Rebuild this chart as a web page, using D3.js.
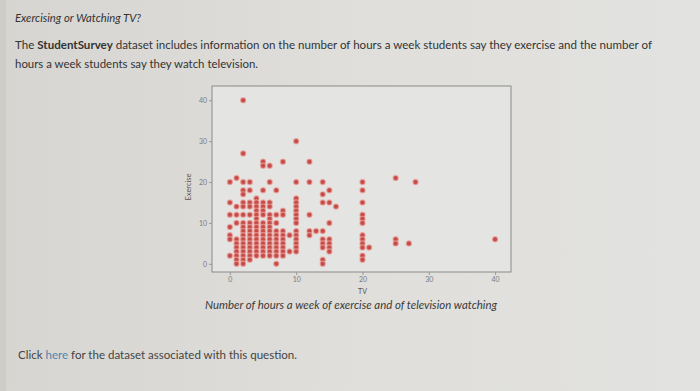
<!DOCTYPE html>
<html>
<head>
<meta charset="utf-8">
<script src="https://cdn.jsdelivr.net/npm/d3@7"></script>
<style>
  body { margin: 0; background: #dcdbd7; }
  text { font-family: Lato, "Open Sans", sans-serif; }
</style>
</head>
<body>
<div id="chart"></div>
<script>
// data: hours of TV (columns) and exercise hours reported at each TV value
var tvHours = [0, 1, 2, 3, 4, 5, 6, 7, 8, 9, 10, 12, 13, 14, 15, 16, 20, 21, 25, 27, 28, 40];
var exerciseHours = [
    [20, 15, 12, 9, 7, 6, 2],
    [21, 14, 12, 10, 6, 5, 4, 3, 2, 1, 0],
    [40, 27, 20, 18, 17, 15, 14, 12, 10, 9, 8, 7, 6, 5, 4, 3, 2, 1, 0],
    [20, 18, 15, 14, 12, 10, 9, 8, 7, 6, 5, 4, 3, 2, 1],
    [16, 15, 14, 13, 12, 11, 10, 9, 8, 7, 6, 5, 4, 3, 2],
    [25, 24, 18, 15, 14, 13, 12, 10, 9, 8, 7, 6, 5, 4, 3, 2],
    [24, 20, 15, 14, 12, 11, 10, 9, 8, 7, 6, 5, 4, 3, 2],
    [18, 12, 10, 8, 7, 6, 5, 4, 3, 2, 0],
    [25, 13, 12, 8, 7, 6, 5, 4, 3, 2],
    [7, 3],
    [30, 20, 16, 15, 14, 13, 12, 11, 10, 8, 7, 6, 5, 4, 3],
    [25, 20, 12, 8, 7],
    [8],
    [20, 17, 15, 8, 6, 5, 4, 1, 0],
    [18, 15, 10, 6, 5, 4, 3],
    [14],
    [20, 18, 15, 12, 11, 10, 7, 6, 5, 4, 2, 1],
    [4],
    [21, 6, 5],
    [5],
    [20],
    [6]
];
var xTicks = [0, 10, 20, 30, 40];
var yTicks = [0, 10, 20, 30, 40];

//setup
var W = 700, H = 391;
var plot = { left: 212, top: 86, right: 511, bottom: 272 };

const svg = d3.select("#chart").append("svg")
    .attr("width", W)
    .attr("height", H);

var grad = svg.append("defs").append("linearGradient")
    .attr("id", "bg")
    .attr("x1", 0).attr("x2", 1).attr("y1", 0).attr("y2", 0);
grad.append("stop").attr("offset", "0%").attr("stop-color", "#d6d5d1");
grad.append("stop").attr("offset", "55%").attr("stop-color", "#e0dfdc");
grad.append("stop").attr("offset", "100%").attr("stop-color", "#e2e2e0");

svg.append("rect")
    .attr("width", W).attr("height", H)
    .attr("fill", "url(#bg)");
svg.append("rect")
    .attr("width", 6).attr("height", H)
    .attr("fill", "#cfcdc8");

// header text
svg.append("text")
    .attr("x", 15).attr("y", 22)
    .attr("font-size", 11.5).attr("font-style", "italic")
    .attr("fill", "#333")
    .attr("textLength", 126).attr("lengthAdjust", "spacingAndGlyphs")
    .text("Exercising or Watching TV?");

var line1 = svg.append("text")
    .attr("x", 15).attr("y", 49)
    .attr("font-size", 11.5)
    .attr("fill", "#333")
    .attr("textLength", 637).attr("lengthAdjust", "spacingAndGlyphs");
line1.append("tspan").text("The ");
line1.append("tspan").attr("font-weight", "bold").text("StudentSurvey");
line1.append("tspan").text(" dataset includes information on the number of hours a week students say they exercise and the number of");

svg.append("text")
    .attr("x", 15).attr("y", 68)
    .attr("font-size", 11.5)
    .attr("fill", "#333")
    .attr("textLength", 243).attr("lengthAdjust", "spacingAndGlyphs")
    .text("hours a week students say they watch television.");

// plot
const x = d3.scaleLinear().domain([-2.7, 42.4]).range([plot.left, plot.right]);
const y = d3.scaleLinear().domain([-2, 43.5]).range([plot.bottom, plot.top]);

svg.append("rect")
    .attr("x", plot.left).attr("y", plot.top)
    .attr("width", plot.right - plot.left)
    .attr("height", plot.bottom - plot.top)
    .attr("fill", "#e4e4e2")
    .attr("stroke", "#8a8a8a")
    .attr("stroke-width", 1);

const xAxis = d3.axisBottom(x).tickValues(xTicks).tickSize(3).tickPadding(2);
const yAxis = d3.axisLeft(y).tickValues(yTicks).tickSize(3).tickPadding(2);

var gx = svg.append("g")
    .attr("transform", "translate(0," + plot.bottom + ")")
    .attr("class", "Xaxis")
    .call(xAxis);
var gy = svg.append("g")
    .attr("transform", "translate(" + plot.left + ",0)")
    .attr("class", "Yaxis")
    .call(yAxis);

[gx, gy].forEach(function (g) {
    g.select(".domain").remove();
    g.selectAll("line").attr("stroke", "#999");
    g.selectAll("text")
        .attr("fill", "#7a7a7a")
        .attr("font-size", 7)
        .attr("font-family", "\"DejaVu Sans\", sans-serif");
});

svg.append("text")
    .attr("x", x(20)).attr("y", 294)
    .attr("text-anchor", "middle")
    .attr("font-size", 7)
    .attr("fill", "#555")
    .text("TV");

svg.append("text")
    .attr("transform", "translate(191,187) rotate(-90)")
    .attr("text-anchor", "middle")
    .attr("font-size", 7.5)
    .attr("fill", "#555")
    .text("Exercise");

// points
var points = [];
tvHours.forEach(function (tv, i) {
    exerciseHours[i].forEach(function (ex) {
        points.push({ tv: tv, ex: ex });
    });
});

svg.append("g")
    .selectAll("circle")
    .data(points)
    .enter()
    .append("circle")
    .attr("cx", function (d) { return x(d.tv); })
    .attr("cy", function (d) { return y(d.ex); })
    .attr("r", 2.6)
    .attr("fill", "#c44c49")
    .attr("stroke", "#eca39c")
    .attr("stroke-width", 1.2)
    .attr("stroke-opacity", 0.7);

// caption
svg.append("text")
    .attr("x", 205).attr("y", 309)
    .attr("font-size", 11.5).attr("font-style", "italic")
    .attr("fill", "#3a3a3a")
    .attr("textLength", 292).attr("lengthAdjust", "spacingAndGlyphs")
    .text("Number of hours a week of exercise and of television watching");

var click = svg.append("text")
    .attr("x", 18).attr("y", 359)
    .attr("font-size", 11)
    .attr("fill", "#444")
    .attr("textLength", 279).attr("lengthAdjust", "spacingAndGlyphs");
click.append("tspan").text("Click ");
click.append("tspan").attr("fill", "#4f86ad").text("here");
click.append("tspan").text(" for the dataset associated with this question.");
</script>
</body>
</html>
